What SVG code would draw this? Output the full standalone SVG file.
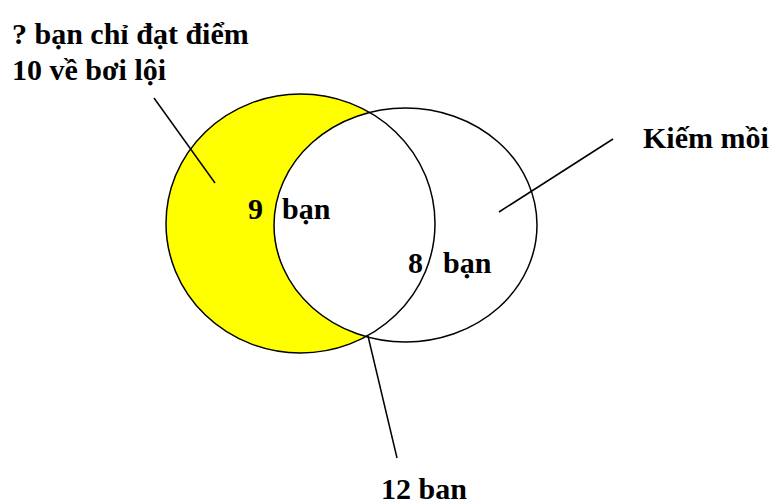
<svg xmlns="http://www.w3.org/2000/svg" width="773" height="504" viewBox="0 0 773 504">
<style>
  .t { font-family: "Liberation Serif", "Times New Roman", serif; font-weight: bold; fill: #000; font-size: 30px; }
  .ring { fill: none; stroke: #000; stroke-width: 1.5; }
  .lead { stroke: #000; stroke-width: 1.5; fill: none; }
</style>
<rect width="773" height="504" fill="#fff"/>
<g id="set-boi-loi">
  <ellipse cx="300.5" cy="223.5" rx="134.5" ry="129.5" fill="#ffff00"/>
</g>
<g id="set-kiem-moi">
  <ellipse cx="405.5" cy="225" rx="131.5" ry="117" fill="#fff"/>
</g>
<g id="outlines">
  <ellipse class="ring" cx="300.5" cy="223.5" rx="134.5" ry="129.5"/>
  <ellipse class="ring" cx="405.5" cy="225" rx="131.5" ry="117"/>
</g>
<g id="connectors">
  <line class="lead" x1="154" y1="98" x2="215" y2="183"/>
  <line class="lead" x1="613" y1="139" x2="499" y2="212"/>
  <line class="lead" x1="368" y1="336" x2="397" y2="458"/>
</g>
<g id="label-question">
  <text class="t" x="12" y="44">? bạn chỉ đạt điểm</text>
  <text class="t" x="12" y="80">10 về bơi lội</text>
</g>
<g id="label-kiem-moi">
  <text class="t" x="643" y="148">Kiếm mồi</text>
</g>
<g id="label-9">
  <text class="t" y="219"><tspan x="248">9</tspan><tspan x="282">bạn</tspan></text>
</g>
<g id="label-8">
  <text class="t" y="273"><tspan x="408">8</tspan><tspan x="443">bạn</tspan></text>
</g>
<g id="label-12">
  <text class="t" x="381" y="499">12 ban</text>
</g>
</svg>
